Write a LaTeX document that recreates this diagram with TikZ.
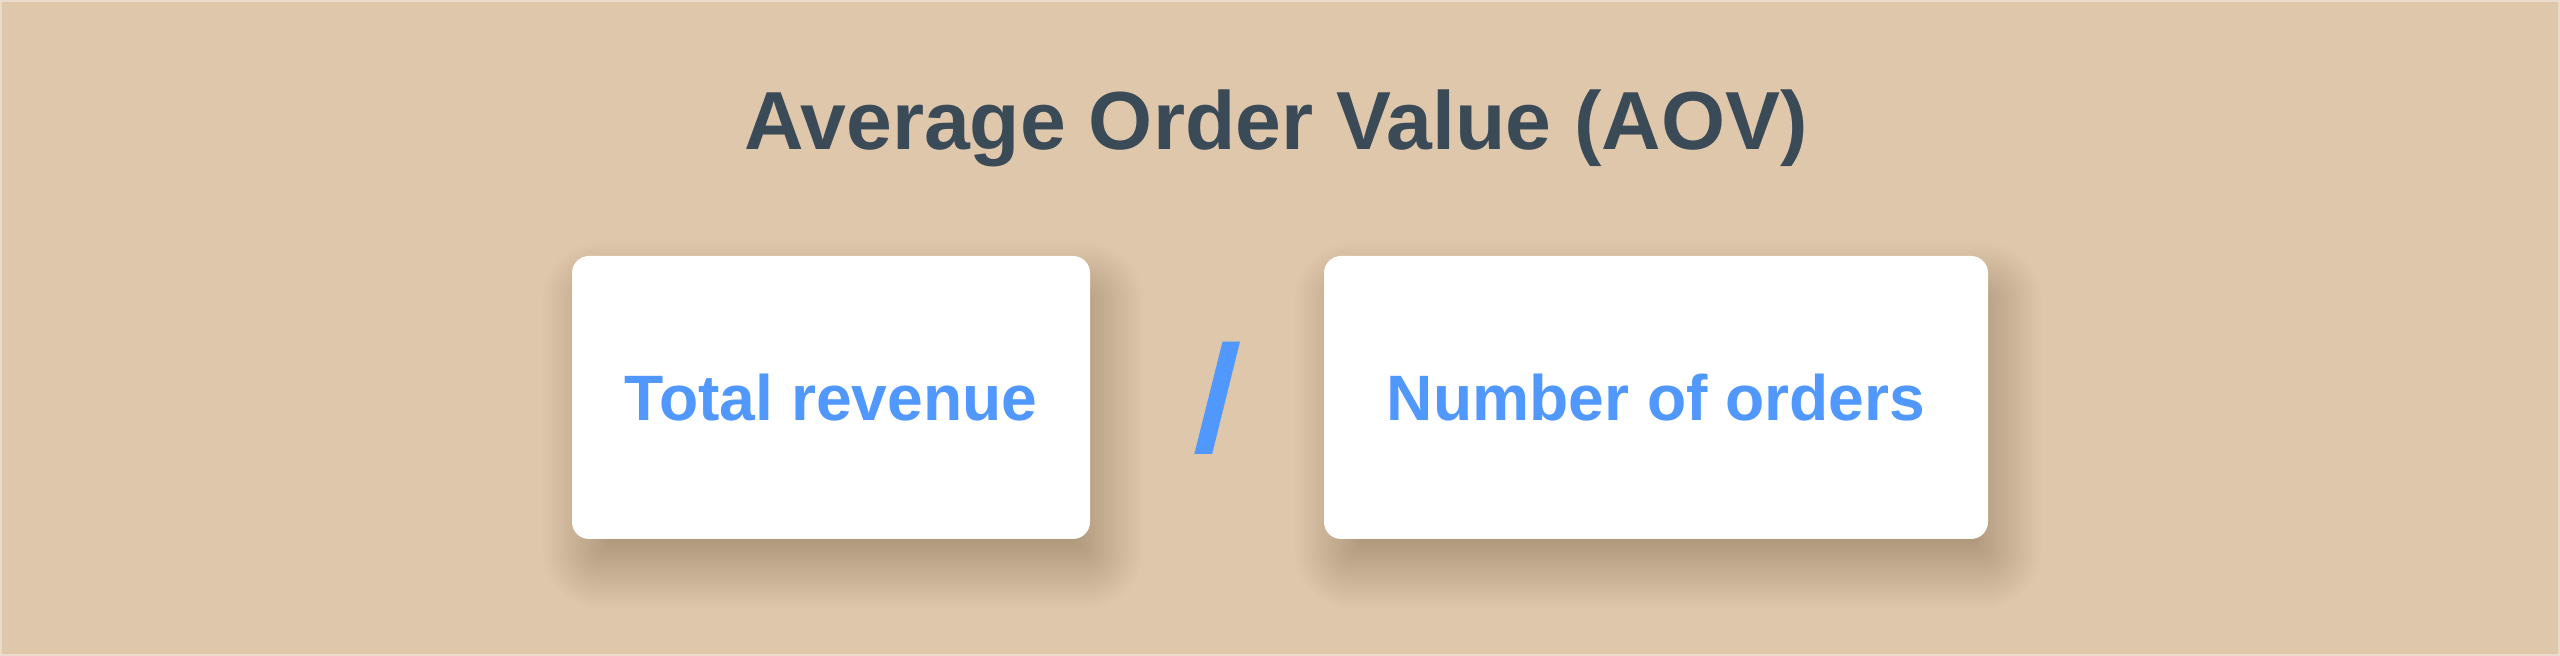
\documentclass[tikz,border=0pt]{standalone}
\usepackage{fontspec}
\setmainfont{Liberation Sans}
\definecolor{bgc}{HTML}{DFC7AB}
\definecolor{edgec}{HTML}{EADBC9}
\definecolor{titlec}{HTML}{3A4A57}
\definecolor{bluec}{HTML}{5098FD}
\definecolor{shadowc}{RGB}{64,44,16}
\begin{document}
\begin{tikzpicture}[x=0.5pt,y=-0.5pt,
  card/.style={fill=white, draw=none, rounded corners=8.5pt, inner sep=0pt,
    minimum height=141.5pt, font=\bfseries\fontsize{32.1}{38}\selectfont, text=bluec},
  titletext/.style={font=\bfseries\fontsize{41.2}{48}\selectfont, text=titlec, inner sep=0pt},
  slashtext/.style={font=\bfseries\fontsize{75.5}{80}\selectfont, text=bluec, inner sep=0pt}]
\useasboundingbox (0,0) rectangle (2560,656);
\fill[bgc] (0,0) rectangle (2560,656);
\draw[edgec, line width=1pt] (1,1) rectangle (2559,655);
% shadows
\foreach \xa/\xb in {572/1090, 1324/1988}{
  \foreach \i in {0,...,22}{
    \pgfmathsetmacro\d{-25+3*\i}
    \pgfmathsetmacro\r{0.5*max(17+\d,2)}
    \fill[shadowc, fill opacity=0.0101, rounded corners=\r pt]
      ({\xa+12-\d},{256+28-\d}) rectangle ({\xb+12+\d},{539+28+\d});
  }
}
\node[titletext, anchor=base] (title) at (1276,150) {Average Order Value (AOV)};
\node[card, minimum width=259pt] (rev) at (831,397.5) {Total revenue};
\node[card, minimum width=332pt] (ord) at (1656,397.5) {Number of orders};
\node[slashtext, anchor=base, xslant=0.06] (slash) at (1214.5,452) {/};
\end{tikzpicture}
\end{document}
